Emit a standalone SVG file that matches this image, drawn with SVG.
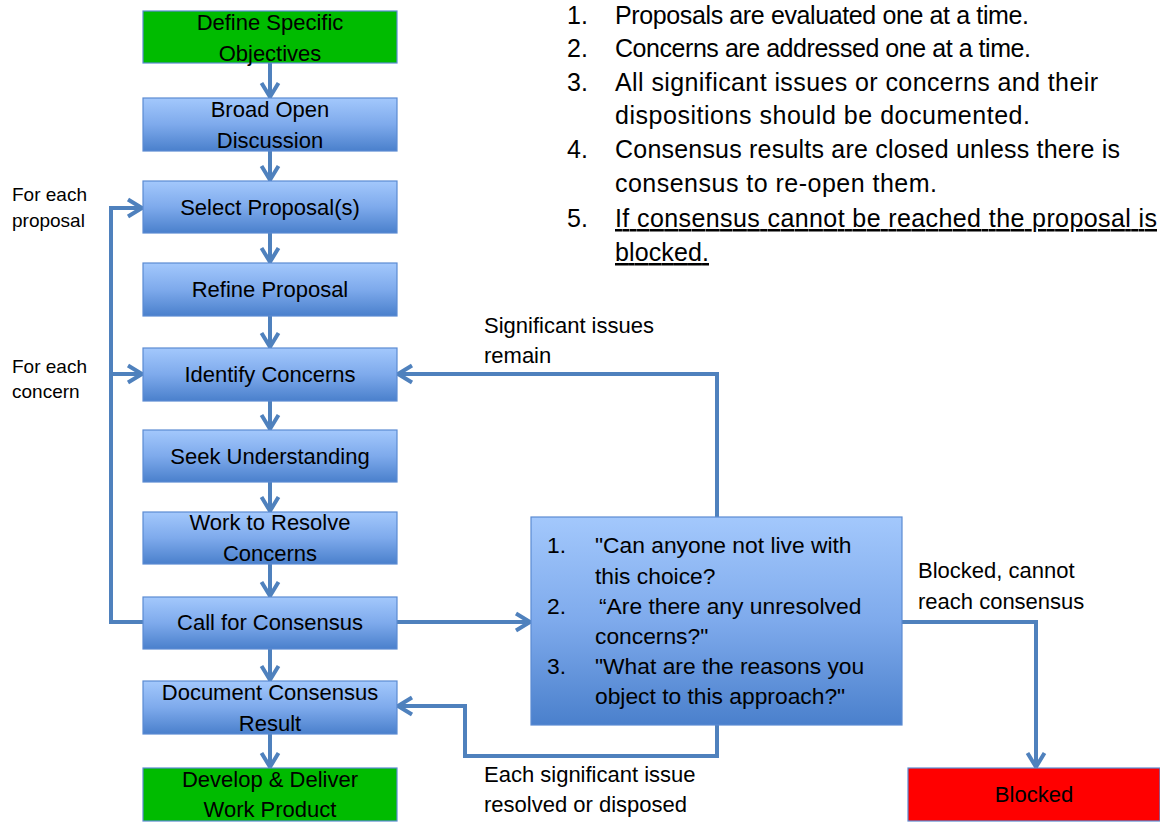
<svg xmlns="http://www.w3.org/2000/svg" width="1160" height="822" viewBox="0 0 1160 822">
<style>
  text { font-family: "Liberation Sans", Arial, sans-serif; fill: #000; }
  .bx { font-size: 22px; text-anchor: middle; }
  .lbl { font-size: 22px; }
  .side { font-size: 19px; }
  .lst { font-size: 25px; }
  .dq { font-size: 22.8px; }
  .box { fill: url(#blueGrad); stroke: #5B8BD2; stroke-width: 1.2; }
  .green { fill: #00BB00; stroke: #5B8BD2; stroke-width: 1.2; }
  .red { fill: #FF0000; stroke: #5B8BD2; stroke-width: 1.2; }
  .con { fill: none; stroke: #4F81BD; stroke-width: 4; stroke-linejoin: miter; marker-end: url(#arr); }
</style>
<defs>
  <linearGradient id="blueGrad" x1="0" y1="0" x2="0" y2="1">
    <stop offset="0" stop-color="#A3C8FC"/>
    <stop offset="0.5" stop-color="#7EAAEC"/>
    <stop offset="1" stop-color="#4A80CC"/>
  </linearGradient>
  <marker id="arr" markerUnits="userSpaceOnUse" markerWidth="24" markerHeight="24" viewBox="-20 -12 24 24" refX="0" refY="0" orient="auto" overflow="visible">
    <path d="M-15,-8.5 L-1,0 L-15,8.5" fill="none" stroke="#4F81BD" stroke-width="4" stroke-linejoin="miter" stroke-linecap="butt"/>
  </marker>
</defs>
<rect width="1160" height="822" fill="#FFFFFF"/>

<g id="connectors">
  <line class="con" x1="270" y1="63" x2="270" y2="98"/>
  <line class="con" x1="270" y1="151" x2="270" y2="181"/>
  <line class="con" x1="270" y1="233" x2="270" y2="263"/>
  <line class="con" x1="270" y1="316" x2="270" y2="348"/>
  <line class="con" x1="270" y1="401" x2="270" y2="430"/>
  <line class="con" x1="270" y1="482" x2="270" y2="512"/>
  <line class="con" x1="270" y1="564" x2="270" y2="597"/>
  <line class="con" x1="270" y1="649" x2="270" y2="681"/>
  <line class="con" x1="270" y1="734" x2="270" y2="768"/>
  <polyline class="con" points="143,622 111,622 111,208 143,208"/>
  <line class="con" x1="111" y1="374" x2="143" y2="374"/>
  <line class="con" x1="397" y1="622" x2="531" y2="622"/>
  <polyline class="con" points="717,517 717,374 397,374"/>
  <polyline class="con" points="717,725 717,756 465,756 465,706 397,706"/>
  <polyline class="con" points="902,622 1036,622 1036,768"/>
</g>

<g id="n1"><rect class="green" x="143" y="11" width="254" height="52"/>
  <text class="bx" x="270" y="30">Define Specific</text><text class="bx" x="270" y="61">Objectives</text></g>
<g id="n2"><rect class="box" x="143" y="98" width="254" height="53"/>
  <text class="bx" x="270" y="117">Broad Open</text><text class="bx" x="270" y="148">Discussion</text></g>
<g id="n3"><rect class="box" x="143" y="181" width="254" height="52"/>
  <text class="bx" x="270" y="215">Select Proposal(s)</text></g>
<g id="n4"><rect class="box" x="143" y="263" width="254" height="53"/>
  <text class="bx" x="270" y="297">Refine Proposal</text></g>
<g id="n5"><rect class="box" x="143" y="348" width="254" height="53"/>
  <text class="bx" x="270" y="382">Identify Concerns</text></g>
<g id="n6"><rect class="box" x="143" y="430" width="254" height="52"/>
  <text class="bx" x="270" y="464">Seek Understanding</text></g>
<g id="n7"><rect class="box" x="143" y="512" width="254" height="52"/>
  <text class="bx" x="270" y="530">Work to Resolve</text><text class="bx" x="270" y="561">Concerns</text></g>
<g id="n8"><rect class="box" x="143" y="597" width="254" height="52"/>
  <text class="bx" x="270" y="630">Call for Consensus</text></g>
<g id="n9"><rect class="box" x="143" y="681" width="254" height="53"/>
  <text class="bx" x="270" y="700">Document Consensus</text><text class="bx" x="270" y="731">Result</text></g>
<g id="n10"><rect class="green" x="143" y="768" width="254" height="53"/>
  <text class="bx" x="270" y="787">Develop &amp; Deliver</text><text class="bx" x="270" y="817">Work Product</text></g>

<g id="decision"><rect class="box" x="531" y="517" width="371" height="208"/>
  <text class="dq" x="547" y="553">1.</text><text class="dq" x="595" y="553">"Can anyone not live with</text>
  <text class="dq" x="595" y="584">this choice?</text>
  <text class="dq" x="547" y="614">2.</text><text class="dq" x="599" y="614">“Are there any unresolved</text>
  <text class="dq" x="595" y="644">concerns?"</text>
  <text class="dq" x="547" y="674">3.</text><text class="dq" x="595" y="674">"What are the reasons you</text>
  <text class="dq" x="595" y="704">object to this approach?"</text>
</g>

<g id="blocked"><rect class="red" x="908" y="768" width="252" height="53"/>
  <text class="bx" x="1034" y="802">Blocked</text></g>

<g id="labels">
  <text class="side" x="12" y="201">For each</text>
  <text class="side" x="12" y="227">proposal</text>
  <text class="side" x="12" y="373">For each</text>
  <text class="side" x="12" y="398">concern</text>
  <text class="lbl" x="484" y="333">Significant issues</text>
  <text class="lbl" x="484" y="363">remain</text>
  <text class="lbl" x="918" y="578">Blocked, cannot</text>
  <text class="lbl" x="918" y="609">reach consensus</text>
  <text class="lbl" x="484" y="782">Each significant issue</text>
  <text class="lbl" x="484" y="812">resolved or disposed</text>
</g>

<g id="notes">
  <text class="lst" x="567" y="24">1.</text>
  <text class="lst" x="615" y="24" textLength="414" lengthAdjust="spacing">Proposals are evaluated one at a time.</text>
  <text class="lst" x="567" y="57">2.</text>
  <text class="lst" x="615" y="57" textLength="416" lengthAdjust="spacing">Concerns are addressed one at a time.</text>
  <text class="lst" x="567" y="91">3.</text>
  <text class="lst" x="615" y="91" textLength="483" lengthAdjust="spacing">All significant issues or concerns and their</text>
  <text class="lst" x="615" y="124" textLength="415" lengthAdjust="spacing">dispositions should be documented.</text>
  <text class="lst" x="567" y="158">4.</text>
  <text class="lst" x="615" y="158" textLength="505" lengthAdjust="spacing">Consensus results are closed unless there is</text>
  <text class="lst" x="615" y="192" textLength="322" lengthAdjust="spacing">consensus to re-open them.</text>
  <text class="lst" x="567" y="227">5.</text>
  <text class="lst" x="615" y="227" textLength="542" lengthAdjust="spacing" text-decoration="underline">If consensus cannot be reached the proposal is</text>
  <text class="lst" x="615" y="261" textLength="94" lengthAdjust="spacing" text-decoration="underline">blocked.</text>
</g>
</svg>
